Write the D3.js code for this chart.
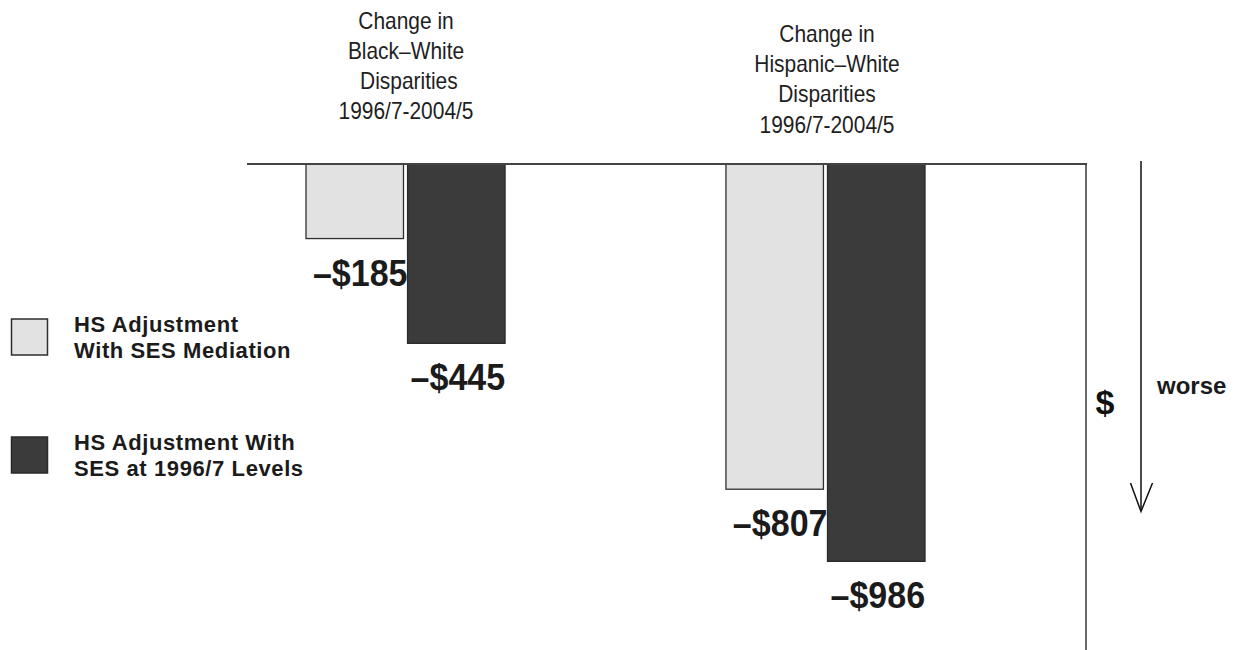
<!DOCTYPE html>
<html>
<head>
<meta charset="utf-8">
<script src="https://cdn.jsdelivr.net/npm/d3@7"></script>
<style>
  body { margin: 0; background: #fff; }
  svg { display: block; }
</style>
</head>
<body>
<div id="container"></div>
<script>
// data
var groups = ["Black–White", "Hispanic–White"];
var series = ["mediation", "fixed"];
var bwValues = [-185, -445];
var hwValues = [-807, -986];
var titleLines = [
  ["Change in", "Black–White", " Disparities", "1996/7-2004/5"],
  ["Change in", "Hispanic–White", "Disparities", "1996/7-2004/5"]
];
var legendLines = [
  ["HS Adjustment", "With SES Mediation"],
  ["HS Adjustment With", "SES at 1996/7 Levels"]
];

var width = 1248;
var height = 650;
var colors = { mediation: "#e2e2e2", fixed: "#3b3b3b" };
var strokes = { mediation: "#2e2e2e", fixed: "#2a2a2a" };

var rows = [
  { group: groups[0], values: bwValues },
  { group: groups[1], values: hwValues }
];

var svg = d3
  .select("div#container")
  .append("svg")
  .attr("width", width)
  .attr("height", height)
  .style("background-color", "#fff");

// scales
var baseY = 164;
var y = d3.scaleLinear().domain([0, -1000]).range([baseY, baseY + 403]);

var x0 = d3.scaleBand()
  .domain(groups)
  .range([306, 925])
  .paddingInner(0.526);

var x1 = d3.scaleBand()
  .domain(series)
  .range([0, x0.bandwidth()])
  .paddingInner(0.04);

// bars
var g = svg.append("g");
var groupG = g.selectAll("g.grp")
  .data(rows)
  .enter()
  .append("g")
  .attr("class", "grp")
  .attr("transform", d => `translate(${x0(d.group)},0)`);

groupG.selectAll("rect")
  .data(d => d.values.map((v, i) => ({ key: series[i], value: v })))
  .enter()
  .append("rect")
  .attr("x", d => x1(d.key))
  .attr("y", y(0))
  .attr("width", x1.bandwidth())
  .attr("height", d => y(d.value) - y(0))
  .attr("fill", d => colors[d.key])
  .attr("stroke", d => strokes[d.key])
  .attr("stroke-width", 1.3);

// value labels: light one ends at the dark bar, dark one starts at it
var fmt = v => "–$" + Math.abs(v);
var sq = 0.92; // labels are a little condensed
groupG.selectAll("text.val")
  .data(d => d.values.map((v, i) => ({ key: series[i], value: v })))
  .enter()
  .append("text")
  .attr("class", "val")
  .attr("transform", d => {
    var lx = d.key === "mediation" ? x1(series[1]) : x1(series[1]) + 3;
    return `translate(${lx},${y(d.value) + 47}) scale(${sq},1)`;
  })
  .attr("text-anchor", d => d.key === "mediation" ? "end" : "start")
  .style("font-family", "'Liberation Sans', Arial, sans-serif")
  .style("font-weight", "bold")
  .style("font-size", "37px")
  .attr("fill", "#1b1b1b")
  .text(d => fmt(d.value));

// baseline and right frame
svg.append("line")
  .attr("x1", 247).attr("x2", 1087)
  .attr("y1", y(0)).attr("y2", y(0))
  .attr("stroke", "#444").attr("stroke-width", 1.8);
svg.append("line")
  .attr("x1", 1086).attr("x2", 1086)
  .attr("y1", y(0)).attr("y2", height)
  .attr("stroke", "#444").attr("stroke-width", 1.6);

// titles (slightly condensed regular face)
var titlePos = [[406, 28.5], [827, 41.7]];
titleLines.forEach((lines, i) => {
  svg.append("g")
    .attr("transform", `translate(${titlePos[i][0]},${titlePos[i][1]}) scale(0.91,1)`)
    .append("text")
    .attr("text-anchor", "middle")
    .style("font-family", "'Liberation Sans', Arial, sans-serif")
    .style("font-size", "23px")
    .style("white-space", "pre")
    .attr("fill", "#1e1e1e")
    .selectAll("tspan")
    .data(lines)
    .enter()
    .append("tspan")
    .attr("x", 0)
    .attr("y", (d, j) => j * 30.3)
    .text(d => d);
});

// legend
var legend = svg.append("g");
var legendY = [319, 437];
legendLines.forEach((lines, i) => {
  legend.append("rect")
    .attr("x", 11.5).attr("y", legendY[i])
    .attr("width", 36).attr("height", 36)
    .attr("fill", colors[series[i]])
    .attr("stroke", strokes[series[i]])
    .attr("stroke-width", 1.5);
  legend.append("text")
    .style("font-family", "'Liberation Sans', Arial, sans-serif")
    .style("font-weight", "bold")
    .style("font-size", "22px")
    .style("letter-spacing", "0.6px")
    .attr("fill", "#1b1b1b")
    .selectAll("tspan")
    .data(lines)
    .enter()
    .append("tspan")
    .attr("x", 74)
    .attr("y", (d, j) => legendY[i] + 12.5 + j * 26.5)
    .text(d => d);
});

// "worse" arrow
svg.append("line")
  .attr("x1", 1141).attr("x2", 1141)
  .attr("y1", 161).attr("y2", 511)
  .attr("stroke", "#111").attr("stroke-width", 1.5);
svg.append("path")
  .attr("d", "M1130.5,483 L1141,511.5 L1152.5,483")
  .attr("fill", "none")
  .attr("stroke", "#111").attr("stroke-width", 1.5);

svg.append("text")
  .attr("x", 1105).attr("y", 414)
  .attr("text-anchor", "middle")
  .style("font-family", "'Liberation Sans', Arial, sans-serif")
  .style("font-weight", "bold")
  .style("font-size", "34px")
  .attr("fill", "#111")
  .text("$");
svg.append("text")
  .attr("x", 1157).attr("y", 394)
  .style("font-family", "'Liberation Sans', Arial, sans-serif")
  .style("font-weight", "bold")
  .style("font-size", "24px")
  .attr("fill", "#1b1b1b")
  .text("worse");
</script>
</body>
</html>
